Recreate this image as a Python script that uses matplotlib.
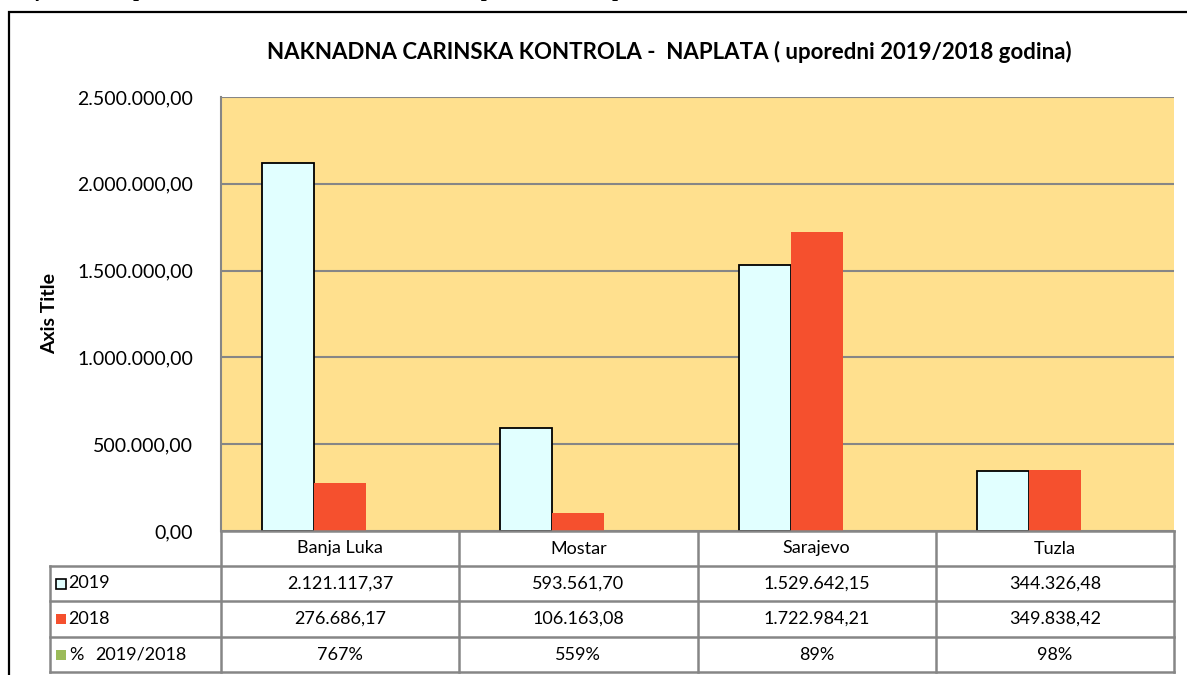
import matplotlib

matplotlib.use("Agg")

import matplotlib.pyplot as plt
import numpy as np
from matplotlib.lines import Line2D
from matplotlib.patches import Rectangle

W, H = 1187, 675

categories = ["Banja Luka", "Mostar", "Sarajevo", "Tuzla"]
values_2019 = [2121117.37, 593561.70, 1529642.15, 344326.48]
values_2018 = [276686.17, 106163.08, 1722984.21, 349838.42]
values_pct = [7.67, 5.59, 0.89, 0.98]
percent_labels = ["767%", "559%", "89%", "98%"]
y_ticks = [0, 500000, 1000000, 1500000, 2000000, 2500000]

C_2019 = "#E1FFFF"
C_2018 = "#F5502E"
C_PCT = "#9BBB59"
C_BG = "#FFE08E"
C_GRID = "#868686"


def eu(v):
    s = f"{v:,.2f}"
    return s.replace(",", "X").replace(".", ",").replace("X", ".")


def fx(px):
    return px / W


def fy(py):
    return 1 - py / H


plt.rcParams["font.family"] = ["Lato", "DejaVu Sans"]

fig = plt.figure(figsize=(W / 100, H / 100), dpi=100)

# outer frame (runs off the right and bottom of the picture)
fig.patches.append(Rectangle((fx(9), fy(H + 20)), 1.2, fy(12) - fy(H + 20),
                             transform=fig.transFigure, fill=False,
                             edgecolor="black", linewidth=1.6))

# clipped caption line above the frame
fig.text(fx(2), fy(-4), "Grafikon 5: Naplata naknadnom carinskom kontrolom po carinskim ispostavama 2019/2018",
         family="Liberation Serif", fontsize=15, fontweight="bold", style="italic",
         va="baseline", ha="left")

left, right, top, bottom = 221, 1174, 97, 531
ax = fig.add_axes([fx(left), fy(bottom), fx(right - left), fy(top) - fy(bottom)])
ax.set_facecolor(C_BG)

x = np.arange(len(categories))
bw = 0.2185
ax.bar(x - bw, values_2019, bw, color=C_2019, edgecolor="black", linewidth=1.3, zorder=3)
ax.bar(x, values_2018, bw, color=C_2018, edgecolor="none", zorder=3)
ax.bar(x + bw, values_pct, bw, color=C_PCT, edgecolor="none", zorder=3)

ax.set_xlim(-0.5, len(categories) - 0.5)
ax.set_ylim(0, 2500000)
ax.set_yticks(y_ticks)
ax.set_yticklabels([eu(v) for v in y_ticks], fontsize=14)
ax.tick_params(axis="y", length=0, pad=20)
ax.set_xticks([])
ax.grid(axis="y", color=C_GRID, linewidth=1.5, zorder=1)
for side in ["top", "right", "bottom"]:
    ax.spines[side].set_visible(False)
ax.spines["left"].set_color(C_GRID)
ax.spines["left"].set_linewidth(1.5)
ax.set_ylabel("Axis Title", fontsize=14, fontweight="bold", labelpad=14)

fig.text(fx(669), fy(52), "NAKNADNA CARINSKA KONTROLA -  NAPLATA ( uporedni 2019/2018 godina)",
         fontsize=16, fontweight="bold", ha="center", va="center")

# data table under the plot
row_y = [531, 566, 601, 637, 672]
col_x = [left + (right - left) * i / len(categories) for i in range(len(categories) + 1)]
tbl_left = 50


def hline(y, x0, x1):
    fig.add_artist(Line2D([fx(x0), fx(x1)], [fy(y), fy(y)], color=C_GRID, linewidth=1.8))


def vline(xp, y0, y1):
    fig.add_artist(Line2D([fx(xp), fx(xp)], [fy(y0), fy(y1)], color=C_GRID, linewidth=1.8))


hline(row_y[0], left, right)
for y in row_y[1:]:
    hline(y, tbl_left, right)
vline(tbl_left, row_y[1], row_y[-1])
for xp in col_x:
    vline(xp, row_y[0], row_y[-1])

rows = [categories, [eu(v) for v in values_2019], [eu(v) for v in values_2018], percent_labels]
for r, cells in enumerate(rows):
    yc = (row_y[r] + row_y[r + 1]) / 2
    for c, txt in enumerate(cells):
        xc = (col_x[c] + col_x[c + 1]) / 2
        fig.text(fx(xc), fy(yc), txt, fontsize=13, ha="center", va="center")

# legend keys in the first column
keys = [(C_2019, "black", "2019"), (C_2018, "none", "2018"), (C_PCT, "none", None)]
for i, (fc, ec, label) in enumerate(keys):
    yc = (row_y[i + 1] + row_y[i + 2]) / 2
    fig.patches.append(Rectangle((fx(56), fy(yc + 5)), fx(10), fy(yc - 5) - fy(yc + 5),
                                 transform=fig.transFigure, facecolor=fc, edgecolor=ec,
                                 linewidth=1.2))
    if label:
        fig.text(fx(68), fy(yc), label, fontsize=13, ha="left", va="center")
yc = (row_y[3] + row_y[4]) / 2
fig.text(fx(69), fy(yc), "%", fontsize=13, ha="left", va="center")
fig.text(fx(186), fy(yc), "2019/2018", fontsize=13, ha="right", va="center")

fig.savefig("out.png", dpi=100)
